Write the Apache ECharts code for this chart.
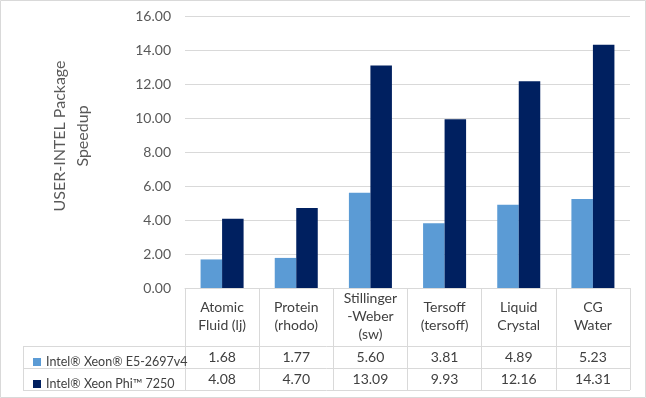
<!DOCTYPE html>
<html>
<head>
<meta charset="utf-8">
<script src="https://cdn.jsdelivr.net/npm/echarts@6/dist/echarts.min.js"></script>
<style>
html,body{margin:0;padding:0;background:#fff}
#chart{width:646px;height:398px}
</style>
</head>
<body>
<div id="chart"></div>
<script>
var categories = ['Atomic\nFluid (lj)', 'Protein\n(rhodo)', 'Stillinger\n-Weber\n(sw)', 'Tersoff\n(tersoff)', 'Liquid\nCrystal', 'CG\nWater']
var seriesNames = ['Intel® Xeon® E5-2697v4', 'Intel® Xeon Phi™ 7250']
var xeonValues = [1.68, 1.77, 5.60, 3.81, 4.89, 5.23]
var phiValues = [4.08, 4.70, 13.09, 9.93, 12.16, 14.31]
var yTicks = { min: 0, max: 16, interval: 2 }

var font = 'Lato, "Noto Sans", sans-serif'
var chart = echarts.init(document.getElementById('chart'))

// grid box, used for table lines
var gl = 185, gr = 16, gt = 16, gb = 110
var W = 646, H = 398
var tl = 23   // table left edge

function fmt(v){ return v.toFixed(2) }

function valueAxis(vals, margin){
	return {
		type: 'category',
		data: vals.map(fmt),
		position: 'bottom',
		axisLine: { show: false },
		axisTick: { show: false },
		axisLabel: {
			interval: 0, margin: margin, verticalAlign: 'middle',
			color: '#404040', fontSize: 14, fontFamily: font
		}
	}
}

var option = {
	animation: false,
	textStyle: { fontFamily: font },
	grid: { left: gl, right: gr, top: gt, bottom: gb },
	legend: {
		orient: 'vertical',
		left: 28,
		top: 350,
		itemWidth: 8,
		itemHeight: 8,
		itemGap: 8,
		icon: 'rect',
		selectedMode: false,
		textStyle: { color: '#404040', fontSize: 12.5, lineHeight: 14, fontFamily: font },
		data: seriesNames
	},
	xAxis: [
		{
			type: 'category',
			data: categories,
			axisLine: { lineStyle: { color: '#D9D9D9' } },
			axisTick: { show: true, length: 102, interval: 0, lineStyle: { color: '#D9D9D9' } },
			axisLabel: {
				interval: 0, margin: 28, verticalAlign: 'middle', lineHeight: 18,
				color: '#404040', fontSize: 14, fontFamily: font
			}
		},
		valueAxis(xeonValues, 69),
		valueAxis(phiValues, 91)
	],
	yAxis: {
		type: 'value',
		min: yTicks.min,
		max: yTicks.max,
		interval: yTicks.interval,
		name: 'USER-INTEL Package\nSpeedup',
		nameLocation: 'middle',
		nameRotate: 90,
		nameGap: 91,
		nameTextStyle: { color: '#595959', fontSize: 16, lineHeight: 23, fontFamily: font, padding: [0,0,0,32] },
		axisLine: { show: false },
		axisTick: { show: false },
		splitLine: { lineStyle: { color: '#D9D9D9' } },
		axisLabel: {
			margin: 14,
			color: '#595959', fontSize: 14, fontFamily: font,
			formatter: function(v){ return fmt(v) }
		}
	},
	series: [
		{ name: seriesNames[0], type: 'bar', data: xeonValues, barWidth: '29%', barGap: '0%', itemStyle: { color: '#5B9BD5' } },
		{ name: seriesNames[1], type: 'bar', data: phiValues, barWidth: '29%', barGap: '0%', itemStyle: { color: '#002060' } }
	],
	graphic: [
		{ type: 'rect', silent: true, shape: { x: 0.5, y: 0.5, width: W - 1, height: H - 1 }, style: { fill: 'none', stroke: '#D9D9D9' } },
		{ type: 'line', silent: true, shape: { x1: tl, y1: 346.5, x2: W - gr, y2: 346.5 }, style: { stroke: '#D9D9D9' } },
		{ type: 'line', silent: true, shape: { x1: tl, y1: 368.5, x2: W - gr, y2: 368.5 }, style: { stroke: '#D9D9D9' } },
		{ type: 'line', silent: true, shape: { x1: tl, y1: 390.5, x2: W - gr, y2: 390.5 }, style: { stroke: '#D9D9D9' } },
		{ type: 'line', silent: true, shape: { x1: tl + 0.5, y1: 346, x2: tl + 0.5, y2: 391 }, style: { stroke: '#D9D9D9' } }
	]
}

chart.setOption(option)
</script>
</body>
</html>
